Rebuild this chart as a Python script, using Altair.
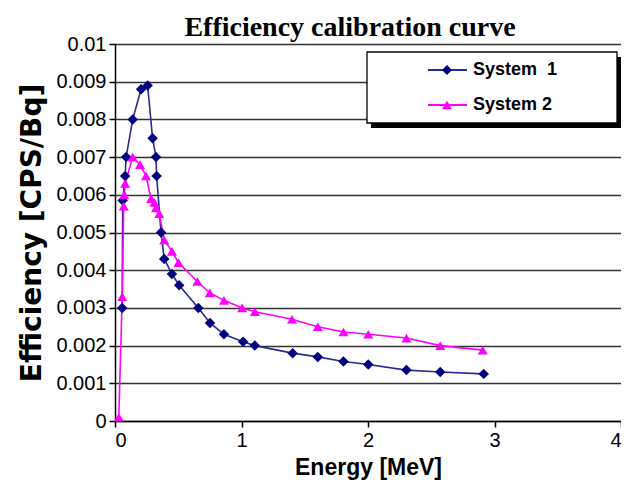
import altair as alt
import pandas as pd

# ---- data ----
series_names = ["System 1", "System 2"]
legend_labels = ["System\u00a0 1", "System 2"]
series_colors = ["#000080", "#FF00FF"]
line_colors = ["#2a2a92", "#FF00FF"]
marker_shapes = ["diamond", "triangle-up"]

energy_sys1 = [0.057, 0.061, 0.080, 0.088, 0.140, 0.206, 0.258, 0.297, 0.324, 0.329,
               0.364, 0.389, 0.450, 0.507, 0.659, 0.751, 0.861, 1.013, 1.105, 1.404,
               1.603, 1.806, 2.002, 2.304, 2.571, 2.915]
eff_sys1 = [0.0030, 0.00585, 0.0065, 0.0070, 0.0080, 0.0088, 0.0089, 0.0075, 0.0070, 0.0065,
            0.0050, 0.0043, 0.0039, 0.0036, 0.0030, 0.0026, 0.0023, 0.0021, 0.0020, 0.0018,
            0.0017, 0.00158, 0.0015, 0.00135, 0.0013, 0.00125]

energy_sys2 = [0.030, 0.057, 0.069, 0.075, 0.080, 0.140, 0.198, 0.245, 0.285, 0.311,
               0.324, 0.350, 0.389, 0.450, 0.502, 0.651, 0.749, 0.861, 1.005, 1.105,
               1.399, 1.603, 1.806, 2.002, 2.304, 2.571, 2.907]
eff_sys2 = [0.0001, 0.0033, 0.0057, 0.0060, 0.0063, 0.0070, 0.0068, 0.0065, 0.0059, 0.0058,
            0.00565, 0.0055, 0.0048, 0.0045, 0.0042, 0.0037, 0.0034, 0.0032, 0.0030, 0.0029,
            0.0027, 0.0025, 0.00236, 0.0023, 0.0022, 0.0020, 0.00188]

x_ticks = [0, 1, 2, 3, 4]
y_ticks = [0, 0.001, 0.002, 0.003, 0.004, 0.005, 0.006, 0.007, 0.008, 0.009, 0.01]

rows = []
for i, (e, v) in enumerate(zip(energy_sys1, eff_sys1)):
    rows.append({"series": series_names[0], "energy": e, "eff": v, "idx": i})
for i, (e, v) in enumerate(zip(energy_sys2, eff_sys2)):
    rows.append({"series": series_names[1], "energy": e, "eff": v, "idx": i})
df = pd.DataFrame(rows)

PLOT_W = 506
PLOT_H = 377

x_enc = alt.X(
    "energy:Q",
    scale=alt.Scale(domain=[0, 4], nice=False, zero=False),
    axis=alt.Axis(values=x_ticks, title="Energy [MeV]", grid=False, format="d",
                  titleY=46, titleBaseline="middle"),
)
y_enc = alt.Y(
    "eff:Q",
    scale=alt.Scale(domain=[0, 0.01], nice=False),
    axis=alt.Axis(values=y_ticks, format="~g", title="Efficiency [CPS/Bq]", grid=True,
                  titleFont="DejaVu Sans", titleFontSize=28, titleX=-83,
                  titleY=PLOT_H / 2, titleBaseline="middle"),
)

base = alt.Chart(df)

lines = base.mark_line(strokeWidth=1.6).encode(
    x=x_enc, y=y_enc,
    stroke=alt.Stroke("series:N", scale=alt.Scale(domain=series_names, range=line_colors),
                      legend=None),
    order="idx:Q",
)
fill_enc = alt.Fill("series:N", scale=alt.Scale(domain=series_names, range=series_colors),
                    legend=None)
points1 = base.transform_filter(alt.datum.series == series_names[0]).mark_point(
    filled=True, size=110, opacity=1, strokeWidth=0, shape=marker_shapes[0]
).encode(x=x_enc, y=y_enc, fill=fill_enc)
points2 = base.transform_filter(alt.datum.series == series_names[1]).mark_point(
    filled=True, size=100, opacity=1, strokeWidth=0, shape=marker_shapes[1]
).encode(x=x_enc, y=y_enc, fill=fill_enc)

# ---- legend box (with drop shadow) and its two entries ----
one = alt.Data(values=[{}])
shadow = alt.Chart(one).mark_rect(color="black").encode(
    x=alt.value(256), x2=alt.value(PLOT_W), y=alt.value(13), y2=alt.value(84)
)
box = alt.Chart(one).mark_rect(fill="white", stroke="black", strokeWidth=1.3).encode(
    x=alt.value(252), x2=alt.value(502), y=alt.value(8), y2=alt.value(79)
)

legend_layers = []
entry_rows = [26, 61]
for k in range(2):
    entry = alt.Chart(alt.Data(values=[{"label": legend_labels[k]}]))
    ly = entry_rows[k]
    legend_layers.append(
        entry.mark_rule(color=line_colors[k], strokeWidth=1.8).encode(
            x=alt.value(313), x2=alt.value(352), y=alt.value(ly))
    )
    legend_layers.append(
        entry.mark_point(filled=True, size=100, opacity=1, strokeWidth=0,
                         color=series_colors[k], shape=marker_shapes[k]).encode(
            x=alt.value(332), y=alt.value(ly))
    )
    legend_layers.append(
        entry.mark_text(align="left", baseline="middle", font="Liberation Sans",
                        fontSize=18, fontWeight="bold", color="black").encode(
            x=alt.value(358), y=alt.value(ly), text="label:N")
    )

chart = alt.layer(shadow, box, lines, points1, points2, *legend_layers).properties(
    width=PLOT_W,
    height=PLOT_H,
    autosize=alt.AutoSizeParams(type="none"),
    padding={"left": 107, "top": 36, "right": 0, "bottom": 62},
    title=alt.TitleParams(
        "Efficiency calibration curve",
        font="Liberation Serif", fontSize=28, fontWeight="bold", color="black",
        anchor="middle", offset=-8, dx=-18,
    ),
).configure_view(
    stroke="#999999", strokeWidth=1
).configure_axis(
    labelFont="Liberation Sans", labelFontSize=20, labelColor="black",
    titleFont="Liberation Sans", titleFontSize=23, titleFontWeight="bold", titleColor="black",
    domainColor="black", domainWidth=1.5, tickColor="black", tickWidth=1.5, tickSize=6,
    gridColor="#333333", gridWidth=1.5, labelPadding=3,
)

chart.save("out.html", embed_options={"renderer": "svg", "actions": False})
